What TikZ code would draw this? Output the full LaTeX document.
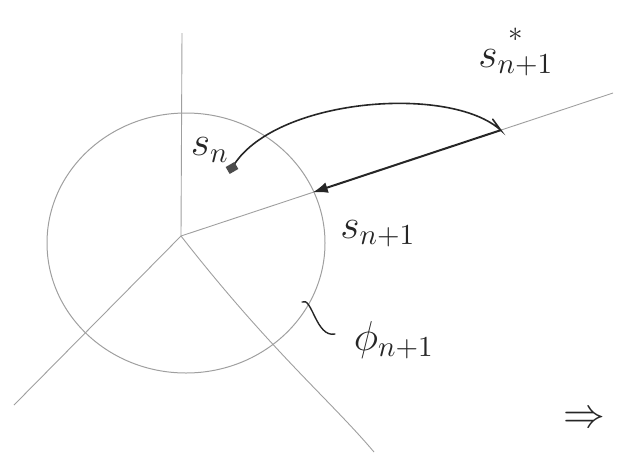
\documentclass[tikz,border=0pt]{standalone}
\usepackage{amsmath}
\usetikzlibrary{arrows.meta, positioning, shapes.geometric, calc}
\tikzset{
  ray/.style={draw=gray!75, line width=0.9pt}, % the thin rays
  sketch/.style={draw=black!85, line width=2pt, line cap=round}, % the pen strokes
  lbl/.style={font=\Large, scale=2.9, text=black!85, inner sep=0pt},
}

\begin{document}
\begin{tikzpicture}[x=1pt,y=-1pt]
    \useasboundingbox (0,0) rectangle (618,453);
    \coordinate (o) at (181,236);
    \coordinate (up) at (182,33);
    \coordinate (far) at (613,93);
    \coordinate (ll) at (14,405);
    \coordinate (lr) at (374,452);
    \node[ellipse, draw=gray!75, line width=1pt, minimum width=278pt,
    minimum height=260pt] (phi) at (186,243) {};

    \coordinate (snext) at ($(o)!0.305!(far)$);
    \coordinate (snstar) at ($(o)!0.74!(far)$);
    \coordinate (sn) at (232,168);
    \coordinate (tilde) at (302,302);

    % rays
    \draw[ray] (o) -- (up);
    \draw[ray] (o) -- (far);
    \draw[ray] (o) -- (ll);
    \draw[ray] (o) .. controls (270,350) and (330,400) .. (lr);

    % projection
    \draw[sketch, line width=1.6pt] (sn) .. controls (272,98) and (450,84) .. (snstar)
    -- ++(-8,-11);
    \fill[black!70, rotate around={30:(sn)}] ($(sn)+(-5,-4)$) rectangle ($(sn)+(5,4)$);
    \draw[sketch, -{Latex[length=15pt,width=11pt]}] (snstar) -- (snext);
    \draw[sketch, line width=1.4pt] (tilde) .. controls (312,296) and (316,338) .. (335,334);

    \node[lbl] (snlbl) at (210,150) {$s_n$};
    \node[lbl] (snextlbl) at (378,234) {$s_{n+1}$};
    \node[lbl] (snstarlbl) at (516,50) {$\overset{*}{s_{n+1}}$};
    \node[lbl] (philbl) at (394,340) {$\phi_{n+1}$};
    \node[lbl] (implies) at (584,420) {$\Rightarrow$};
\end{tikzpicture}
\end{document}
